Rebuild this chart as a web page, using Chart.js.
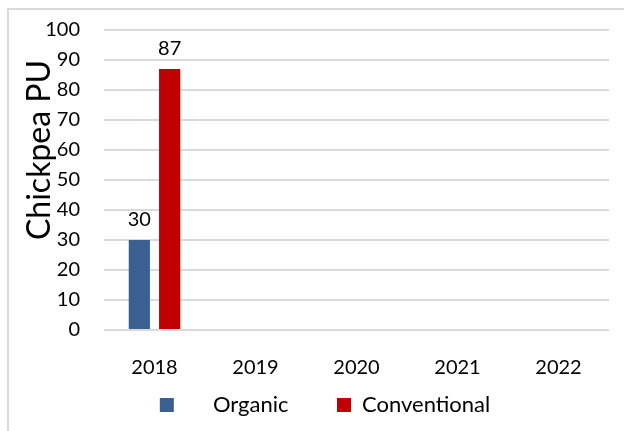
<!DOCTYPE html>
<html>
<head>
<meta charset="utf-8">
<script src="https://cdn.jsdelivr.net/npm/chart.js@4"></script>
<style>
  html, body { margin: 0; padding: 0; background: #fff; }
  #wrap { width: 624px; height: 431px; }
</style>
</head>
<body>
<div id="wrap"><canvas id="chart" width="624" height="431"></canvas></div>
<script>
const years = ['2018', '2019', '2020', '2021', '2022'];
const organicValues = [30, null, null, null, null];
const conventionalValues = [87, null, null, null, null];
const yTicks = [0, 10, 20, 30, 40, 50, 60, 70, 80, 90, 100];

const fontFamily = "Lato, 'Liberation Sans', sans-serif";

// light frame around the chart, like the exported picture
const framePlugin = {
    id: 'frame',
    beforeDraw(chart) {
        const ctx = chart.ctx;
        ctx.save();
        ctx.strokeStyle = '#d9d9d9';
        ctx.lineWidth = 2;
        ctx.beginPath();
        ctx.moveTo(8, chart.height);
        ctx.lineTo(8, 9);
        ctx.lineTo(chart.width, 9);
        ctx.stroke();
        ctx.restore();
    }
};

// axis title sits higher than centre in the reference
const titlePlugin = {
    id: 'yTitle',
    afterDraw(chart) {
        const ctx = chart.ctx;
        ctx.save();
        ctx.translate(40, 150);
        ctx.rotate(-Math.PI / 2);
        ctx.font = '32px ' + fontFamily;
        ctx.fillStyle = '#000';
        ctx.textAlign = 'center';
        ctx.textBaseline = 'middle';
        ctx.fillText('Chickpea PU', 0, 0);
        ctx.restore();
    }
};

// value labels above the bars
const valueLabels = {
    id: 'valueLabels',
    afterDatasetsDraw(chart) {
        const ctx = chart.ctx;
        ctx.save();
        ctx.font = '20px ' + fontFamily;
        ctx.fillStyle = '#000';
        ctx.textAlign = 'center';
        ctx.textBaseline = 'middle';
        chart.data.datasets.forEach((ds, i) => {
            chart.getDatasetMeta(i).data.forEach((bar, j) => {
                const v = ds.data[j];
                if (v == null) return;
                ctx.fillText(String(v), bar.x, bar.y - 20);
            });
        });
        ctx.restore();
    }
};

new Chart(document.getElementById('chart').getContext('2d'), {
    type: 'bar',
    data: {
        labels: years,
        datasets: [
            {
                label: 'Organic',
                data: organicValues,
                backgroundColor: '#3a6092',
                categoryPercentage: 0.6,
                barPercentage: 0.7
            },
            {
                label: 'Conventional',
                data: conventionalValues,
                backgroundColor: '#c00000',
                categoryPercentage: 0.6,
                barPercentage: 0.7
            }
        ]
    },
    options: {
        responsive: false,
        animation: false,
        layout: { padding: { left: 41, right: 15, top: 30, bottom: 5 } },
        scales: {
            x: {
                grid: { display: false },
                border: { display: false },
                ticks: { color: '#000', font: { family: fontFamily, size: 20 }, padding: 18 },
                afterFit(scale) {
                    scale.height = 55;
                    scale.paddingLeft = 0;
                    scale.paddingRight = 0;
                }
            },
            y: {
                min: 0,
                max: 100,
                afterBuildTicks(scale) { scale.ticks = yTicks.map(v => ({ value: v })); },
                grid: { color: '#d9d9d9', lineWidth: 2, drawTicks: false },
                border: { display: false },
                ticks: { color: '#000', font: { family: fontFamily, size: 20 }, padding: 24 },
                afterFit(scale) {
                    scale.width = 63;
                    scale.paddingTop = 0;
                    scale.paddingBottom = 0;
                }
            }
        },
        plugins: {
            legend: {
                position: 'bottom',
                labels: {
                    boxWidth: 14,
                    boxHeight: 14,
                    padding: 9,
                    color: '#000',
                    font: { family: fontFamily, size: 22 },
                    generateLabels(chart) {
                        return chart.data.datasets.map((ds, i) => ({
                            text: i === 0 ? '     Organic       ' : ds.label,
                            fillStyle: ds.backgroundColor,
                            strokeStyle: ds.backgroundColor,
                            lineWidth: 0,
                            datasetIndex: i
                        }));
                    }
                }
            },
            tooltip: { enabled: false }
        }
    },
    plugins: [framePlugin, titlePlugin, valueLabels]
});
</script>
</body>
</html>
